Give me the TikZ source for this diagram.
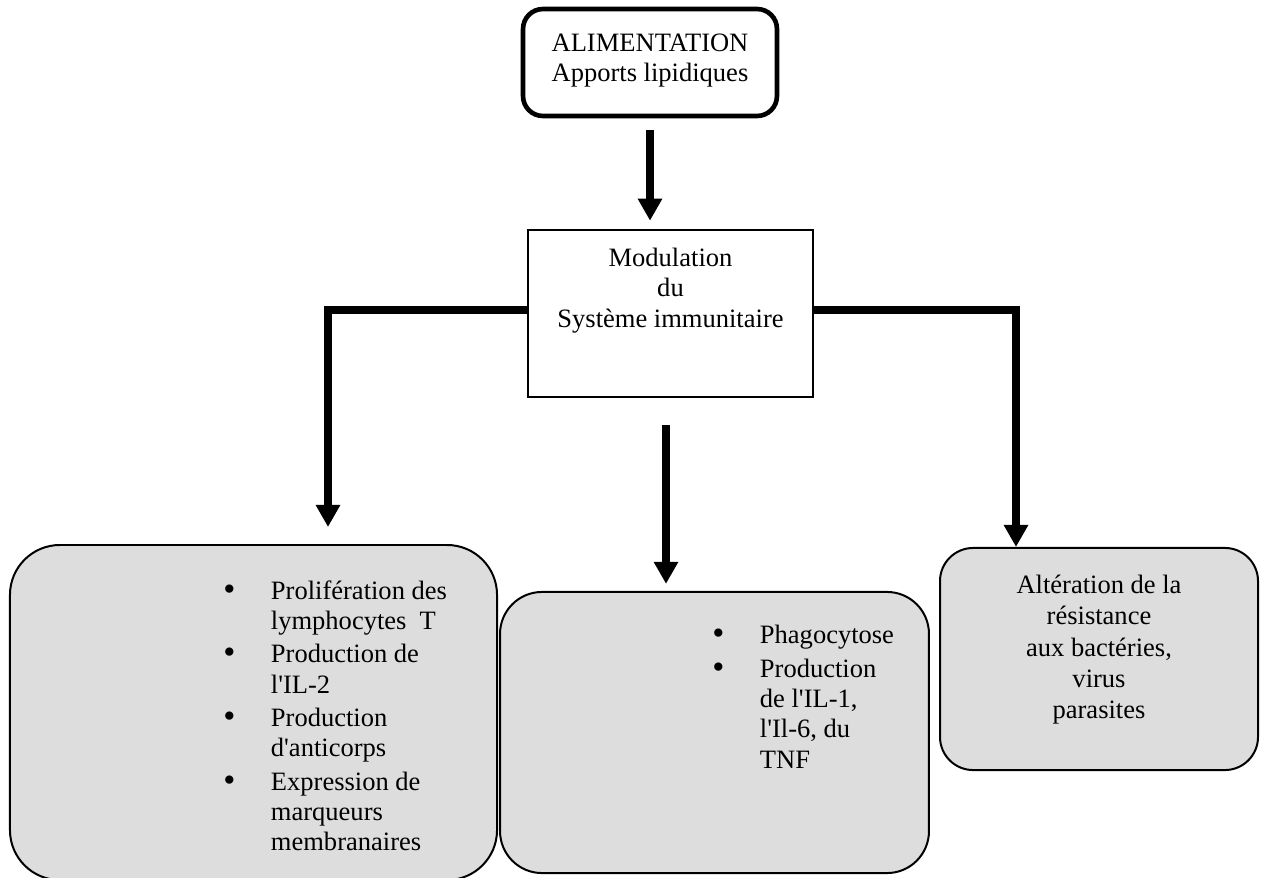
\documentclass[tikz,border=0pt]{standalone}
\usepackage{fontspec}
\setmainfont{Liberation Serif}
\usetikzlibrary{arrows.meta,positioning}

\definecolor{boxgray}{RGB}{221,221,221}
\newcommand{\itembullet}{\makebox[21.5pt][l]{\raisebox{-0.5pt}{\scalebox{1.3}{\textbullet}}}}
\newcommand{\itemgap}{\hspace*{21.5pt}}

\tikzset{
  every node/.style={font=\fontsize{12}{13.7}\selectfont},
  thickbox/.style={draw, line width=2.1pt, rounded corners=9pt},
  thinbox/.style={draw, line width=1.2pt},
  graybox/.style={draw, line width=0.9pt, fill=boxgray},
  boxtext/.style={inner sep=0pt, align=center},
  listtext/.style={inner sep=0pt, align=left, anchor=north west},
  bigline/.style={line width=3.4pt},
  bigarrow/.style={line width=3.4pt, -{Triangle[width=10.5pt,length=10pt]}},
}

\begin{document}
\begin{tikzpicture}[x=0.4525pt, y=-0.4525pt]
  \useasboundingbox (0,0) rectangle (1263,877);

  % boxes
  \node[thickbox, minimum width=114.9pt, minimum height=48.4pt] (alim) at (650,62.5) {};
  \node[thinbox, minimum width=129pt, minimum height=75.6pt] (mod) at (670.5,313.5) {};
  \node[graybox, rounded corners=22.6pt, minimum width=220.4pt, minimum height=151.6pt] (lympho) at (253.5,712.5) {};
  \node[graybox, rounded corners=19pt, minimum width=194.1pt, minimum height=127.2pt] (phago) at (714.5,732.5) {};
  \node[graybox, rounded corners=15pt, minimum width=143.9pt, minimum height=100.5pt] (alt) at (1099,659) {};

  % texts
  \node[boxtext, below=12.2pt of alim.north] (alim-txt) {ALIMENTATION\\Apports lipidiques};
  \node[boxtext, below=8.6pt of mod.north] (mod-txt) {Modulation\\du\\Système immunitaire};
  \node[boxtext, below=12.6pt of alt.north, font=\fontsize{12}{14.1}\selectfont] (alt-txt) {Altération de la\\résistance\\aux bactéries,\\virus\\parasites};
  \node[listtext] (lympho-txt) at (223,580) {%
    \itembullet Prolifération des\\
    \itemgap lymphocytes\ \ T\\[1.4pt]
    \itembullet Production de\\
    \itemgap l\textquotesingle IL-2\\[1.4pt]
    \itembullet Production\\
    \itemgap d\textquotesingle anticorps\\[1.4pt]
    \itembullet Expression de\\
    \itemgap marqueurs\\
    \itemgap membranaires};
  \node[listtext] (phago-txt) at (712,625) {%
    \itembullet Phagocytose\\[1.4pt]
    \itembullet Production\\
    \itemgap de l\textquotesingle IL-1,\\
    \itemgap l\textquotesingle Il-6, du\\
    \itemgap TNF};

  % connectors
  \coordinate (lk) at (328,310);
  \coordinate (rk) at (1016,310);
  \coordinate (mk) at (666,425);
  \draw[bigarrow, shorten <=5.4pt, shorten >=3.6pt] (alim.south) -- (alim.south |- mod.north);
  \draw[bigarrow, shorten >=7.7pt] (mod.west |- lk) -- (lk) -- (lk |- lympho.north);
  \draw[bigarrow] (mod.east |- rk) -- (rk) -- (rk |- alt.north);
  \draw[bigarrow, shorten >=3.2pt] (mk) -- (mk |- phago.north);
\end{tikzpicture}
\end{document}
